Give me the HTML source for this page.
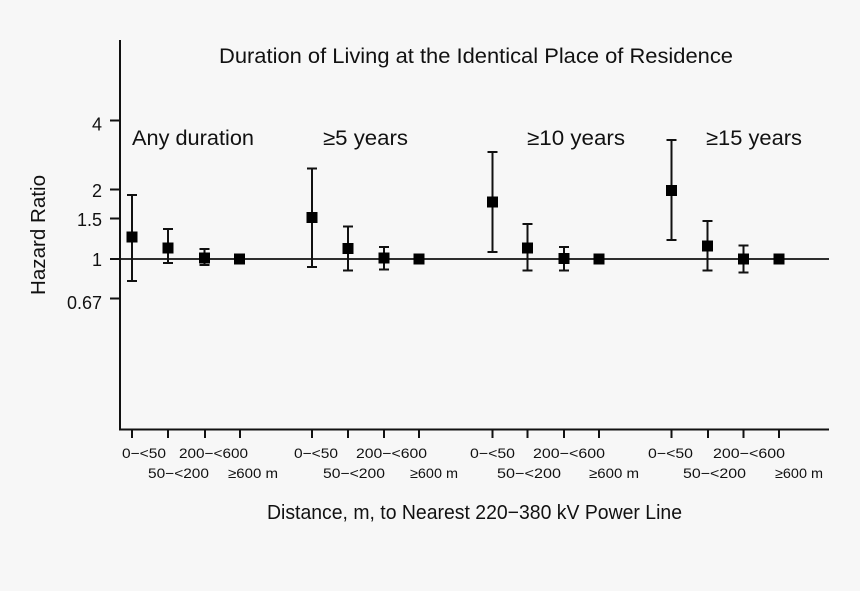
<!DOCTYPE html>
<html><head><meta charset="utf-8"><style>
html,body{margin:0;padding:0;background:#f7f7f7;}
svg{display:block;}
text{font-family:"Liberation Sans",Arial,sans-serif;fill:#111;}
</style></head><body>
<svg width="860" height="591" viewBox="0 0 860 591" xmlns="http://www.w3.org/2000/svg">
<rect width="860" height="591" fill="#f7f7f7"/>
<!-- axes -->
<line x1="120" y1="40" x2="120" y2="430.5" stroke="#111" stroke-width="2"/>
<line x1="119" y1="429.5" x2="829" y2="429.5" stroke="#111" stroke-width="2"/>
<line x1="120" y1="259" x2="829" y2="259" stroke="#111" stroke-width="1.8"/>
<!-- y ticks -->
<g stroke="#111" stroke-width="2">
<line x1="110" y1="120.5" x2="120" y2="120.5"/>
<line x1="110" y1="189.5" x2="120" y2="189.5"/>
<line x1="110" y1="218.5" x2="120" y2="218.5"/>
<line x1="110" y1="259" x2="120" y2="259"/>
<line x1="110" y1="298.5" x2="120" y2="298.5"/>
</g>
<g font-size="18" text-anchor="end">
<text x="102" y="130.5">4</text>
<text x="102" y="197">2</text>
<text x="102" y="226">1.5</text>
<text x="102" y="266">1</text>
<text x="102" y="309">0.67</text>
</g>
<text transform="translate(45,235) rotate(-90)" font-size="20" text-anchor="middle" textLength="120" lengthAdjust="spacingAndGlyphs">Hazard Ratio</text>
<!-- x ticks -->
<g stroke="#111" stroke-width="2">
<line x1="132" y1="429" x2="132" y2="438"/><line x1="168" y1="429" x2="168" y2="438"/><line x1="205" y1="429" x2="205" y2="438"/><line x1="240" y1="429" x2="240" y2="438"/>
<line x1="312" y1="429" x2="312" y2="438"/><line x1="348" y1="429" x2="348" y2="438"/><line x1="384" y1="429" x2="384" y2="438"/><line x1="419" y1="429" x2="419" y2="438"/>
<line x1="492.5" y1="429" x2="492.5" y2="438"/><line x1="527.5" y1="429" x2="527.5" y2="438"/><line x1="564" y1="429" x2="564" y2="438"/><line x1="599" y1="429" x2="599" y2="438"/>
<line x1="671.5" y1="429" x2="671.5" y2="438"/><line x1="708" y1="429" x2="708" y2="438"/><line x1="743.5" y1="429" x2="743.5" y2="438"/><line x1="779" y1="429" x2="779" y2="438"/>
</g>
<g font-size="14" lengthAdjust="spacingAndGlyphs">
<text x="122" y="458" textLength="44" lengthAdjust="spacingAndGlyphs">0−&lt;50</text>
<text x="179" y="458" textLength="69" lengthAdjust="spacingAndGlyphs">200−&lt;600</text>
<text x="148" y="478" textLength="61" lengthAdjust="spacingAndGlyphs">50−&lt;200</text>
<text x="228" y="478" textLength="50" lengthAdjust="spacingAndGlyphs">≥600 m</text>
<text x="294" y="458" textLength="44" lengthAdjust="spacingAndGlyphs">0−&lt;50</text>
<text x="356" y="458" textLength="71" lengthAdjust="spacingAndGlyphs">200−&lt;600</text>
<text x="323" y="478" textLength="62" lengthAdjust="spacingAndGlyphs">50−&lt;200</text>
<text x="410" y="478" textLength="48" lengthAdjust="spacingAndGlyphs">≥600 m</text>
<text x="470" y="458" textLength="45" lengthAdjust="spacingAndGlyphs">0−&lt;50</text>
<text x="533" y="458" textLength="72" lengthAdjust="spacingAndGlyphs">200−&lt;600</text>
<text x="497" y="478" textLength="64" lengthAdjust="spacingAndGlyphs">50−&lt;200</text>
<text x="589" y="478" textLength="50" lengthAdjust="spacingAndGlyphs">≥600 m</text>
<text x="648" y="458" textLength="45" lengthAdjust="spacingAndGlyphs">0−&lt;50</text>
<text x="713" y="458" textLength="72" lengthAdjust="spacingAndGlyphs">200−&lt;600</text>
<text x="683" y="478" textLength="63" lengthAdjust="spacingAndGlyphs">50−&lt;200</text>
<text x="775" y="478" textLength="48" lengthAdjust="spacingAndGlyphs">≥600 m</text>
</g>
<text x="267" y="519" font-size="20" textLength="415" lengthAdjust="spacingAndGlyphs">Distance, m, to Nearest 220−380 kV Power Line</text>
<!-- title & group labels -->
<text x="219" y="63" font-size="21" textLength="514" lengthAdjust="spacingAndGlyphs">Duration of Living at the Identical Place of Residence</text>
<g font-size="21">
<text x="132" y="145" textLength="122" lengthAdjust="spacingAndGlyphs">Any duration</text>
<text x="323" y="145" textLength="85" lengthAdjust="spacingAndGlyphs">≥5 years</text>
<text x="527" y="145" textLength="98" lengthAdjust="spacingAndGlyphs">≥10 years</text>
<text x="706" y="145" textLength="96" lengthAdjust="spacingAndGlyphs">≥15 years</text>
</g>
<!-- error bars -->
<g stroke="#111" stroke-width="2" fill="none">
<path d="M132 195V281M127 195H137M127 281H137"/>
<path d="M168 229V263M163 229H173M163 263H173"/>
<path d="M204.5 249V265M199.5 249H209.5M199.5 265H209.5"/>
<path d="M312 168.5V267M307 168.5H317M307 267H317"/>
<path d="M348 226.5V270.5M343 226.5H353M343 270.5H353"/>
<path d="M384 247V269.5M379 247H389M379 269.5H389"/>
<path d="M492.5 152V252M487.5 152H497.5M487.5 252H497.5"/>
<path d="M527.5 224V270.5M522.5 224H532.5M522.5 270.5H532.5"/>
<path d="M564 247V270.5M559 247H569M559 270.5H569"/>
<path d="M671.5 140V240M666.5 140H676.5M666.5 240H676.5"/>
<path d="M707.5 221V270.5M702.5 221H712.5M702.5 270.5H712.5"/>
<path d="M743.5 245.5V272.5M738.5 245.5H748.5M738.5 272.5H748.5"/>
</g>
<!-- markers -->
<g fill="#000">
<rect x="126.5" y="231.5" width="11" height="11"/>
<rect x="162.5" y="242.5" width="11" height="11"/>
<rect x="199" y="252.5" width="11" height="11"/>
<rect x="234" y="253.5" width="11" height="11"/>
<rect x="306.5" y="212" width="11" height="11"/>
<rect x="342.5" y="243" width="11" height="11"/>
<rect x="378.5" y="252.5" width="11" height="11"/>
<rect x="413.5" y="253.5" width="11" height="11"/>
<rect x="487" y="196.5" width="11" height="11"/>
<rect x="522" y="242.5" width="11" height="11"/>
<rect x="558.5" y="253" width="11" height="11"/>
<rect x="593.5" y="253.5" width="11" height="11"/>
<rect x="666" y="185" width="11" height="11"/>
<rect x="702" y="240.5" width="11" height="11"/>
<rect x="738" y="253.5" width="11" height="11"/>
<rect x="773.5" y="253.5" width="11" height="11"/>
</g>
</svg>
</body></html>
